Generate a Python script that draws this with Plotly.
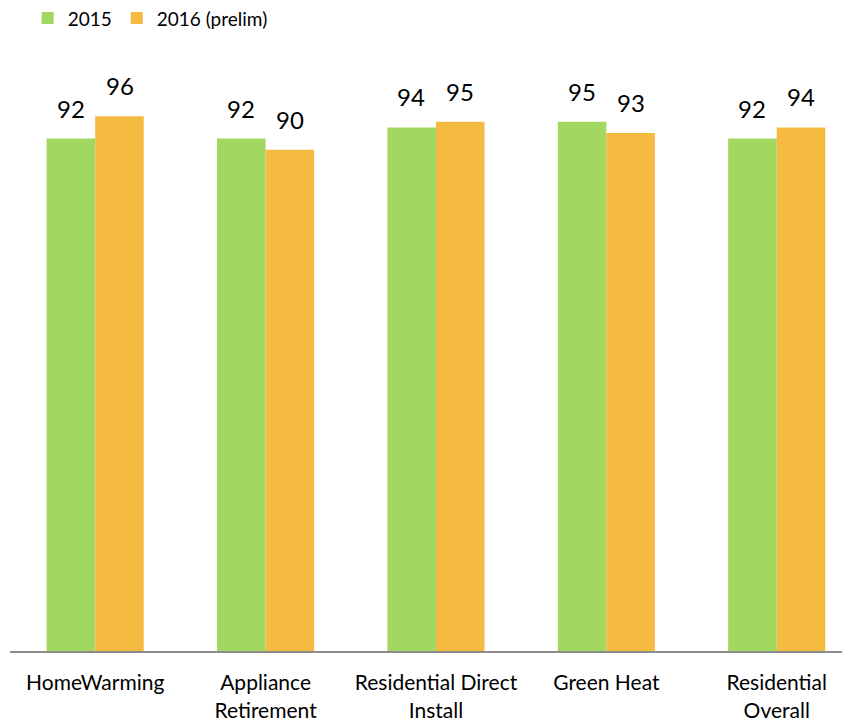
import plotly.graph_objects as go

categories = ["HomeWarming", "Appliance<br>Retirement", "Residential Direct<br>Install", "Green Heat", "Residential<br>Overall"]
series_names = ["2015", "2016 (prelim)"]
values_2015 = [92, 92, 94, 95, 92]
values_2016 = [96, 90, 95, 93, 94]

colors = ["#A2D762", "#F5BB40"]
FONT = "Lato, 'Open Sans', sans-serif"

xs = list(range(len(categories)))
fig = go.Figure()
for name, vals, col in zip(series_names, [values_2015, values_2016], colors):
    fig.add_trace(go.Bar(x=xs, y=vals, name=name, marker=dict(color=col, line=dict(width=0))))

for i, vals in enumerate([values_2015, values_2016]):
    shift = -24.5 if i == 0 else 24.5
    for x, v in zip(xs, vals):
        fig.add_annotation(x=x, y=v, text=str(v), showarrow=False, xref="x", yref="y",
                           xshift=shift, yanchor="bottom", yshift=14,
                           font=dict(family=FONT, size=24, color="#000"))

fig.update_layout(
    width=850, height=722,
    margin=dict(l=2, r=8, t=86, b=79, autoexpand=False),
    paper_bgcolor="white", plot_bgcolor="white",
    barmode="group", bargap=0.43, bargroupgap=0,
    font=dict(family=FONT, color="#000"),
    legend=dict(orientation="h", x=0.021, y=1.136, xref="paper", yref="paper",
                xanchor="left", yanchor="middle", font=dict(size=19, family=FONT),
                itemwidth=30, tracegroupgap=0, traceorder="normal"),
    xaxis=dict(tickmode="array", tickvals=xs, ticktext=categories, range=[-0.5, 4.43],
               showline=True, linecolor="#8C8C8C", linewidth=2, ticks="",
               ticklabelstandoff=12, automargin=False,
               tickfont=dict(size=21, family=FONT, color="#000"), showgrid=False, zeroline=False),
    yaxis=dict(range=[0, 100], visible=False, showgrid=False, zeroline=False),
)
fig.write_html("out.html")
